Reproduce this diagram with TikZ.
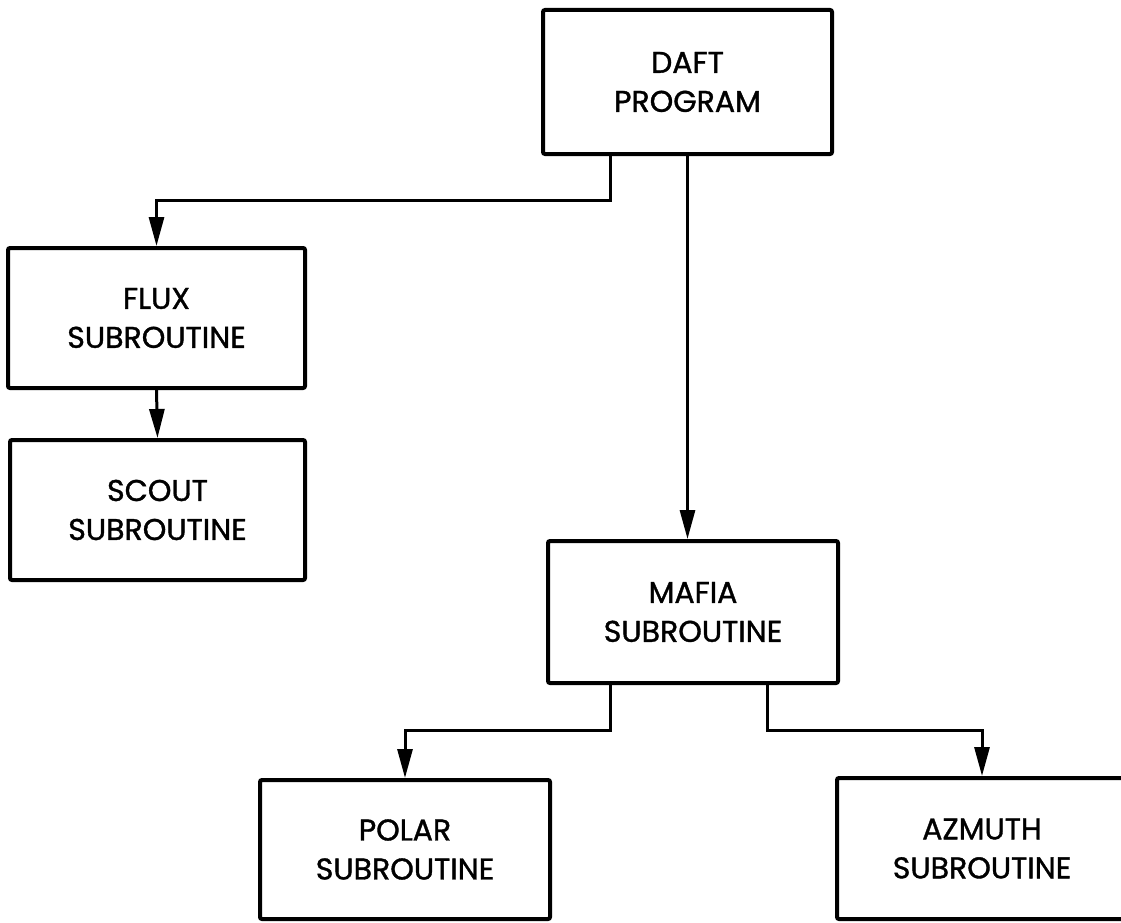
\documentclass[tikz,border=0pt]{standalone}
\usepackage{fontspec}
\setmainfont{Poppins}[FakeBold=1.2]
\usetikzlibrary{arrows.meta}
\begin{document}
\begin{tikzpicture}[x=1pt,y=-1pt,
  blk/.style={draw, line width=4pt, rounded corners=2pt, align=center,
    font=\fontsize{30}{39}\selectfont, inner sep=0pt},
  conn/.style={line width=3pt, -{Triangle[length=29pt,width=15pt]}}]
\useasboundingbox (0,0) rectangle (1121,923);
\node[blk, minimum width=289pt, minimum height=144pt] (daft) at (687.5,82) {DAFT\\PROGRAM};
\node[blk, minimum width=297pt, minimum height=140pt] (flux) at (156.5,318) {FLUX\\SUBROUTINE};
\node[blk, minimum width=295pt, minimum height=140pt] (scout) at (157.5,510) {SCOUT\\SUBROUTINE};
\node[blk, minimum width=290pt, minimum height=142pt] (mafia) at (693,612) {MAFIA\\SUBROUTINE};
\node[blk, minimum width=290pt, minimum height=139pt] (polar) at (405,849.5) {POLAR\\SUBROUTINE};
\node[blk, minimum width=290pt, minimum height=141pt, text width=276pt] (azmuth) at (982,848.5) {AZMUTH\\SUBROUTINE\hspace*{14pt}};
\coordinate (j1) at (610,200);
\coordinate (j2) at (610,730);
\coordinate (j3) at (767,730);
\draw[conn] (j1 |- daft.south) -- (j1) -| (flux.north);
\draw[conn] (daft.south) -- (daft.south |- mafia.north);
\draw[conn] (flux.south) -- (scout.north);
\draw[conn] (j2 |- mafia.south) -- (j2) -| (polar.north);
\draw[conn] (j3 |- mafia.south) -- (j3) -| (azmuth.north);
\end{tikzpicture}
\end{document}
